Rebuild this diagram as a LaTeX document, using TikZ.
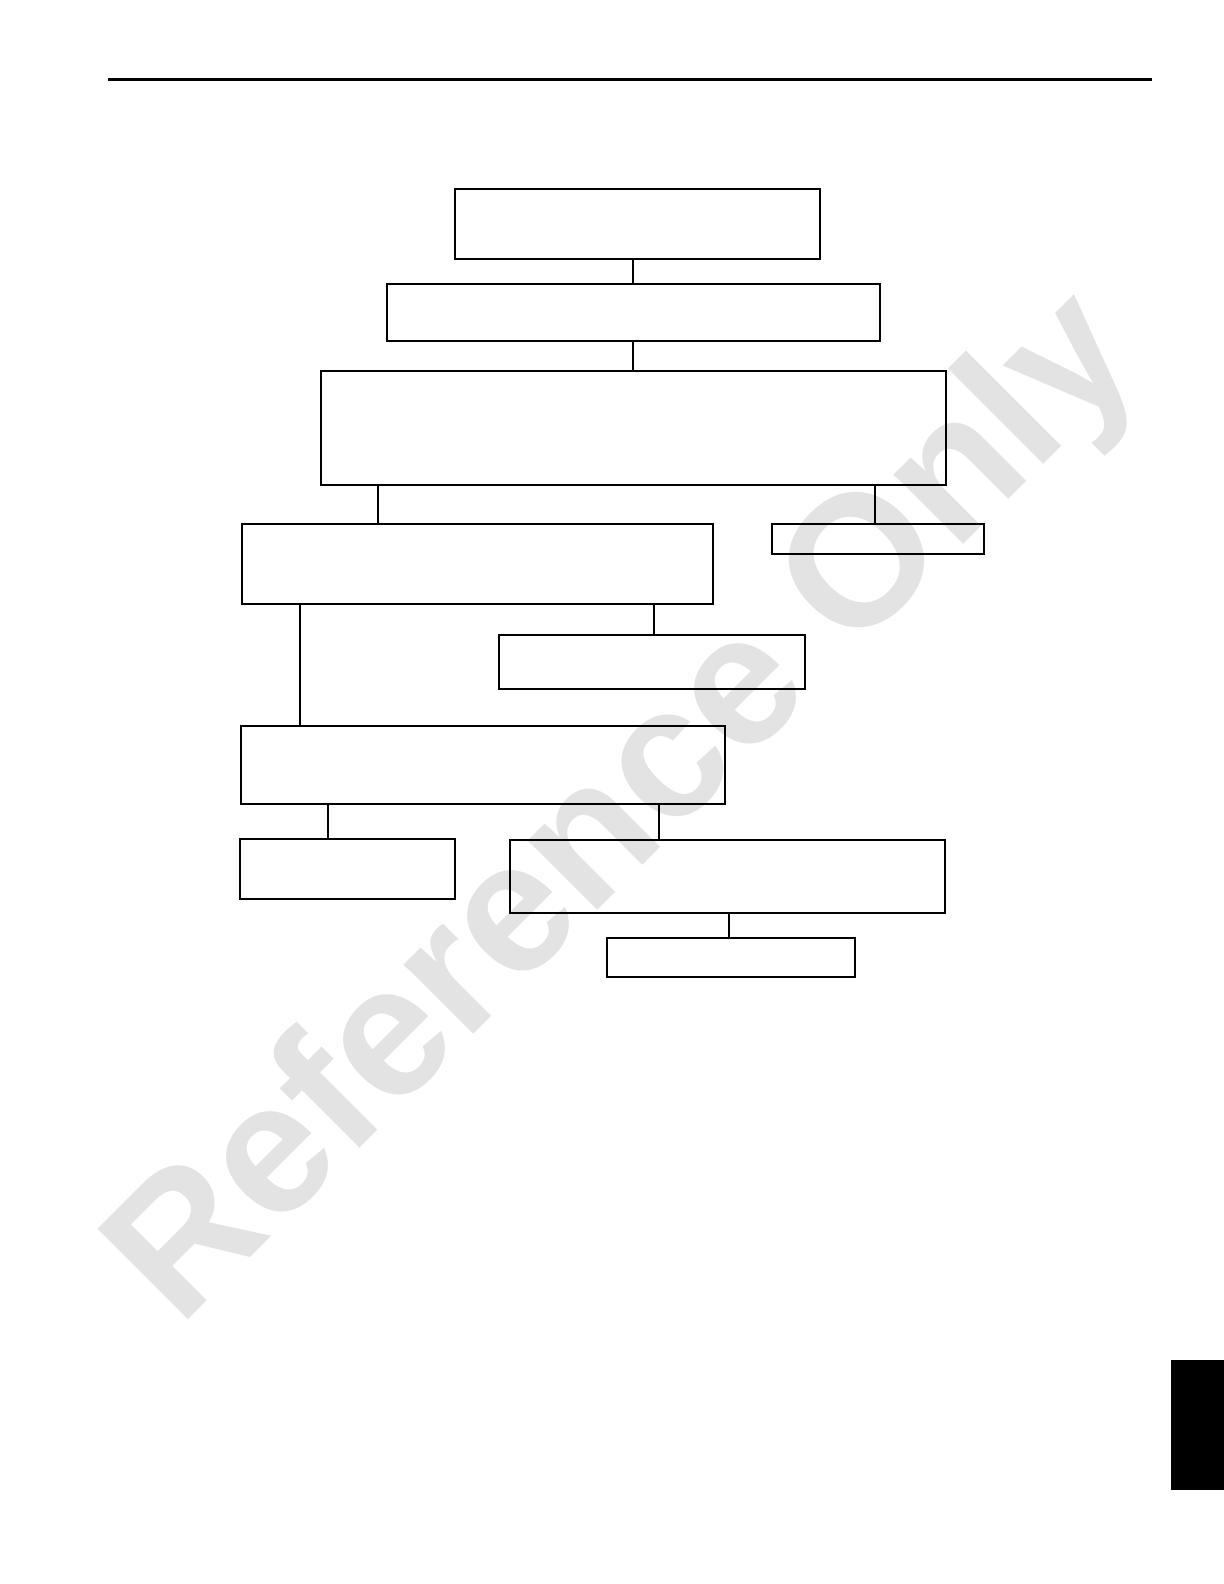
\documentclass[tikz,border=0pt]{standalone}
\usepackage{fontspec}
\setmainfont{Liberation Sans}
\usepackage{tikz}

\begin{document}
\begin{tikzpicture}[x=0.5pt, y=-0.5pt, box/.style={draw, rectangle, line width=1pt, inner sep=0pt, outer sep=0pt}, n/.style={line width=0.75pt}, t/.style={line width=1.25pt}, mark text/.style={text=black!11, font=\bfseries\fontsize{93}{93}\selectfont, rotate=45}]
            \useasboundingbox (0,0) rectangle (1224,1584);
            % watermark
            \node[mark text] (wm) at (628,812) {Reference Only};
            % page rule and tab
            \draw[line width=1.5pt] (108,80) -- (1152,80);
            \fill (1171,1360) rectangle (1224,1490);
            % nodes
            \node[box, minimum width=182.5pt, minimum height=35pt] (b1) at (637.5,224) {};
            \node[box, minimum width=246.5pt, minimum height=28.5pt] (b2) at (633.5,312.5) {};
            \node[box, minimum width=312.5pt, minimum height=57pt] (b3) at (633.5,428) {};

            \node[box, minimum width=235.5pt, minimum height=40pt] (b4) at (477.5,564) {};
            \node[box, minimum width=106pt, minimum height=15pt] (b5) at (878,539) {};
            \node[box, minimum width=153pt, minimum height=27pt] (b6) at (652,662) {};

            \node[box, minimum width=242pt, minimum height=39pt] (b7) at (483,765) {};
            \node[box, minimum width=107.5pt, minimum height=30pt] (b8) at (347.5,869) {};
            \node[box, minimum width=217.5pt, minimum height=36.5pt] (b9) at (727.5,876.5) {};
            \node[box, minimum width=124pt, minimum height=19.5pt] (b10) at (731,957.5) {};
            % edges
            \draw [n] (b1.south -| 633,0) -- (b2.north -| 633,0);
            \draw [n] (b2.south -| 633,0) -- (b3.north -| 633,0);
            \draw [t] (b3.south -| 378,0) -- (b4.north -| 378,0);
            \draw [n] (b3.south -| 875,0) -- (b5.north -| 875,0);
            \draw [t] (b4.south -| 300,0) -- (b7.north -| 300,0);
            \draw [n] (b4.south -| 654,0) -- (b6.north -| 654,0);
            \draw [t] (b7.south -| 328,0) -- (b8.north -| 328,0);
            \draw [t] (b7.south -| 659,0) -- (b9.north -| 659,0);
            \draw [t] (b9.south -| 729,0) -- (b10.north -| 729,0);
        \end{tikzpicture}
\end{document}
